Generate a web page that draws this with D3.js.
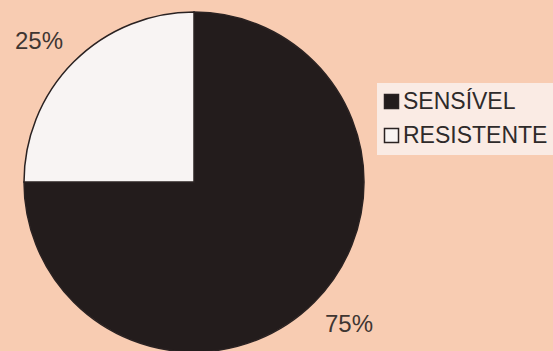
<!DOCTYPE html>
<html>
<head>
<meta charset="utf-8">
<script src="https://cdn.jsdelivr.net/npm/d3@7"></script>
<style>
  html, body { margin: 0; padding: 0; background: #f8ccb2; }
  svg { display: block; font-family: "Liberation Sans", Arial, sans-serif; }
</style>
</head>
<body>
<svg id="chart" width="553" height="351"></svg>
<script>
// categories and values
var categories = ["SENSÍVEL", "RESISTENTE"];
var values = [75, 25];
var fills = ["#231c1c", "#f8f4f3"];

var svg = d3.select("#chart");
var W = 553, H = 351;

svg.append("rect")
   .attr("width", W).attr("height", H)
   .attr("fill", "#f8ccb2");

// pie geometry
var cx = 194, cy = 182, radius = 170;
var g = svg.append("g")
           .attr("transform", "translate(" + cx + "," + cy + ")");

var pie = d3.pie().sort(null).value(function(d) { return d; });
var arcs = pie(values);

var arc = d3.arc().innerRadius(0).outerRadius(radius);

g.selectAll(".slice")
 .data(arcs)
 .enter()
 .append("path")
 .attr("class", "slice")
 .attr("d", arc)
 .attr("fill", function(d, i) { return fills[i]; })
 .attr("stroke", "#2a2222")
 .attr("stroke-width", 1.5);

// percent labels sit outside the pie, a bit off the slice bisector
var LABEL_R = 210, LABEL_SHIFT = -0.045;
g.selectAll(".pct")
 .data(arcs)
 .enter()
 .append("text")
 .attr("class", "pct")
 .attr("transform", function(d) {
     var a = (d.startAngle + d.endAngle) / 2 + LABEL_SHIFT;
     return "translate(" + (LABEL_R * Math.sin(a)) + "," + (-LABEL_R * Math.cos(a)) + ")";
 })
 .attr("text-anchor", "middle")
 .attr("dy", "0.35em")
 .attr("font-size", 24)
 .attr("fill", "#3f3632")
 .text(function(d) { return d.data + "%"; });

// legend
var legend = svg.append("g").attr("transform", "translate(377,83)");
legend.append("rect")
      .attr("width", 176).attr("height", 72)
      .attr("fill", "#faebe4");

var item = legend.selectAll(".item")
                 .data(categories)
                 .enter()
                 .append("g")
                 .attr("class", "item")
                 .attr("transform", function(d, i) { return "translate(0," + (i * 34) + ")"; });

item.append("rect")
    .attr("x", 7.5).attr("y", 11.5)
    .attr("width", 14).attr("height", 14)
    .attr("fill", function(d, i) { return fills[i]; })
    .attr("stroke", "#2a2222")
    .attr("stroke-width", 1.5);

item.append("text")
    .attr("x", 26)
    .attr("y", 26)
    .attr("font-size", 23)
    .attr("fill", "#2e2a2a")
    .text(function(d) { return d; });
</script>
</body>
</html>
